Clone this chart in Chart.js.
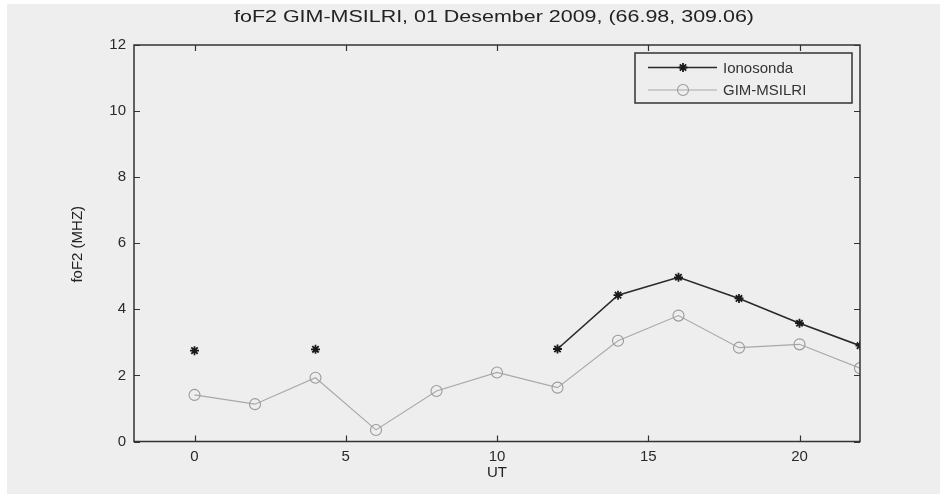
<!DOCTYPE html>
<html>
<head>
<meta charset="utf-8">
<script src="https://cdn.jsdelivr.net/npm/chart.js@4.4.1/dist/chart.umd.min.js"></script>
<style>
  html, body { margin: 0; padding: 0; background: #ffffff; }
  #wrap { position: absolute; left: 7px; top: 4px; width: 933px; height: 490px; background: #eeeeee; }
  canvas { display: block; }
</style>
</head>
<body>
<div id="wrap"><canvas id="c" width="933" height="490"></canvas></div>
<script>
const titleText = 'foF2 GIM-MSILRI, 01 Desember 2009, (66.98, 309.06)';
const xLabel = 'UT';
const yLabel = 'foF2 (MHZ)';
const hours = [0, 2, 4, 6, 8, 10, 12, 14, 16, 18, 20, 22];
const ionosonda = [2.75, null, 2.79, null, null, null, 2.80, 4.43, 4.97, 4.33, 3.58, 2.90];
const gimMsilri = [1.41, 1.13, 1.93, 0.35, 1.53, 2.09, 1.63, 3.05, 3.81, 2.84, 2.94, 2.22];
const xTicks = [0, 5, 10, 15, 20];
const yTicks = [0, 2, 4, 6, 8, 10, 12];
const seriesNames = ['Ionosonda', 'GIM-MSILRI'];

const toXY = (arr) => hours.map((h, i) => ({ x: h, y: arr[i] }));

const decor = {
  id: 'decor',
  afterDraw(chart) {
    const { ctx, chartArea: a, scales } = chart;
    const xs = scales.x, ys = scales.y;
    ctx.save();
    // box
    ctx.strokeStyle = '#333333';
    ctx.lineWidth = 1.5;
    ctx.strokeRect(a.left, a.top, a.right - a.left, a.bottom - a.top);
    // inward ticks
    ctx.lineWidth = 1.2;
    ctx.beginPath();
    const tl = 6;
    xTicks.forEach(v => {
      const px = Math.round(xs.getPixelForValue(v)) + 0.5;
      ctx.moveTo(px, a.bottom); ctx.lineTo(px, a.bottom - tl);
      ctx.moveTo(px, a.top); ctx.lineTo(px, a.top + tl);
    });
    yTicks.forEach(v => {
      const py = Math.round(ys.getPixelForValue(v)) + 0.5;
      ctx.moveTo(a.left, py); ctx.lineTo(a.left + tl, py);
      ctx.moveTo(a.right, py); ctx.lineTo(a.right - tl, py);
    });
    ctx.stroke();
    // title (stretched horizontally like the reference)
    ctx.fillStyle = '#222222';
    ctx.textAlign = 'center';
    ctx.textBaseline = 'middle';
    ctx.font = '16px "Liberation Sans", sans-serif';
    const tw = ctx.measureText(titleText).width;
    const sx = 520 / tw;
    ctx.save();
    ctx.translate(487, 14);
    ctx.scale(sx, 1);
    ctx.fillText(titleText, 0, 0);
    ctx.restore();
    // axis titles
    ctx.font = '15px "Liberation Sans", sans-serif';
    ctx.fillText(xLabel, (a.left + a.right) / 2, 469);
    ctx.save();
    ctx.translate(71, (a.top + a.bottom) / 2 + 1);
    ctx.rotate(-Math.PI / 2);
    ctx.font = '15px "Liberation Sans Narrow", "Liberation Sans", sans-serif';
    ctx.fillText(yLabel, 0, 0);
    ctx.restore();
    // legend
    const lx = 628, ly = 49, lw = 217, lh = 50;
    ctx.fillStyle = '#eeeeee';
    ctx.fillRect(lx, ly, lw, lh);
    ctx.strokeStyle = '#333333';
    ctx.lineWidth = 1.5;
    ctx.strokeRect(lx, ly, lw, lh);
    chart.data.datasets.forEach((ds, i) => {
      const ry = ly + 14.5 + i * 22.5;
      ctx.strokeStyle = ds.borderColor;
      ctx.lineWidth = ds.borderWidth;
      ctx.beginPath();
      ctx.moveTo(lx + 13, ry); ctx.lineTo(lx + 82, ry);
      ctx.stroke();
      const cx = lx + 48;
      ctx.strokeStyle = ds.pointBorderColor;
      ctx.lineWidth = ds.pointBorderWidth;
      ctx.beginPath();
      if (ds.pointStyle === 'circle') {
        ctx.arc(cx, ry, ds.pointRadius, 0, Math.PI * 2);
      } else {
        const r = ds.pointRadius;
        ctx.moveTo(cx - r, ry); ctx.lineTo(cx + r, ry);
        ctx.moveTo(cx, ry - r); ctx.lineTo(cx, ry + r);
        const d = r * 0.707;
        ctx.moveTo(cx - d, ry - d); ctx.lineTo(cx + d, ry + d);
        ctx.moveTo(cx - d, ry + d); ctx.lineTo(cx + d, ry - d);
      }
      ctx.stroke();
      ctx.fillStyle = '#333333';
      ctx.textAlign = 'left';
      ctx.font = '15px "Liberation Sans", sans-serif';
      ctx.fillText(ds.label, lx + 88, ry + 1);
    });
    ctx.restore();
  }
};

new Chart(document.getElementById('c'), {
  type: 'line',
  data: {
    datasets: [
      {
        label: seriesNames[0],
        data: toXY(ionosonda),
        borderColor: '#2a2a2a',
        borderWidth: 1.6,
        pointStyle: 'star',
        pointRadius: 4.5,
        pointBorderColor: '#1a1a1a',
        pointBorderWidth: 1.8,
        pointBackgroundColor: '#1a1a1a',
        spanGaps: false,
        tension: 0
      },
      {
        label: seriesNames[1],
        data: toXY(gimMsilri),
        borderColor: '#a8a8a8',
        borderWidth: 1.1,
        pointStyle: 'circle',
        pointRadius: 5.5,
        pointBorderColor: '#9a9a9a',
        pointBorderWidth: 1.1,
        pointBackgroundColor: 'rgba(0,0,0,0)',
        tension: 0
      }
    ]
  },
  options: {
    responsive: false,
    animation: false,
    layout: { padding: { top: 41, right: 80, bottom: 0, left: 0 } },
    plugins: { legend: { display: false }, title: { display: false }, tooltip: { enabled: false } },
    scales: {
      x: {
        type: 'linear',
        min: -2, max: 22,
        afterBuildTicks: (s) => { s.ticks = xTicks.map(v => ({ value: v })); },
        afterFit: (s) => { s.height = 52.5; },
        grid: { display: false, drawTicks: false },
        border: { display: false },
        ticks: { color: '#2a2a2a', padding: 6, maxRotation: 0, font: { family: '"Liberation Sans", sans-serif', size: 15 } }
      },
      y: {
        type: 'linear',
        min: 0, max: 12,
        afterBuildTicks: (s) => { s.ticks = yTicks.map(v => ({ value: v })); },
        afterFit: (s) => { s.width = 127; },
        grid: { display: false, drawTicks: false },
        border: { display: false },
        ticks: { color: '#2a2a2a', padding: 8, font: { family: '"Liberation Sans", sans-serif', size: 15 } }
      }
    }
  },
  plugins: [decor]
});
</script>
</body>
</html>
